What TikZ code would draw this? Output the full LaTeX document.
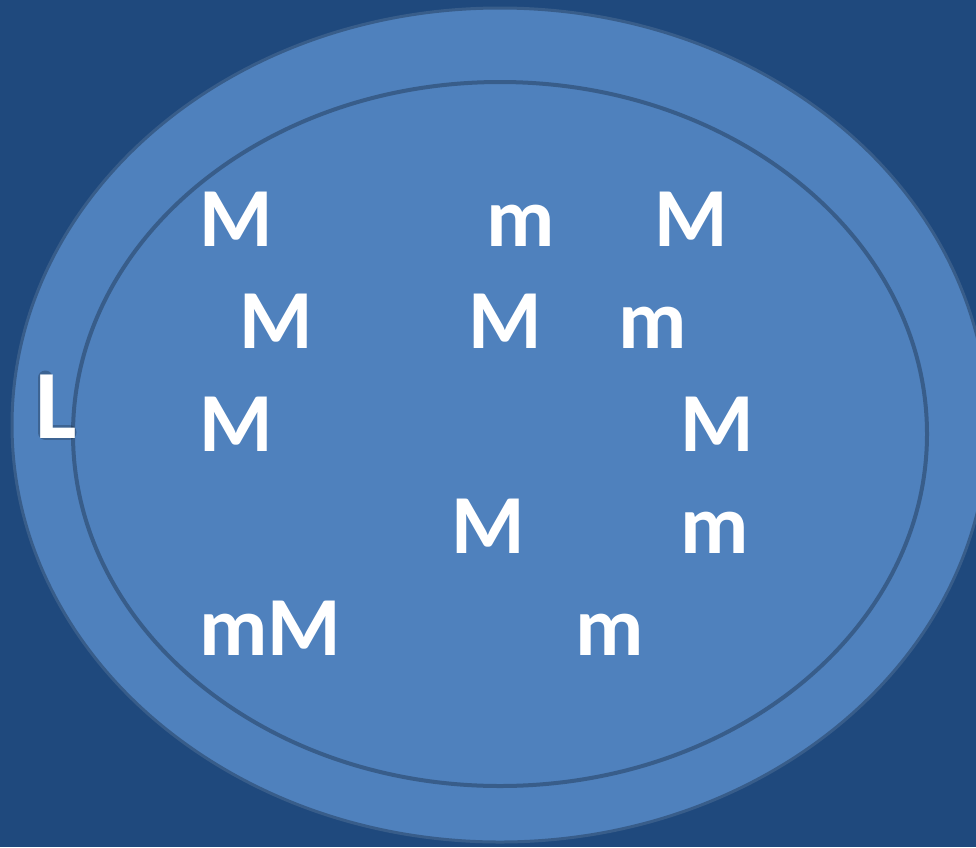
\documentclass[tikz,border=0pt]{standalone}
\usepackage{fontspec}
\setmainfont{Carlito}
\definecolor{bgblue}{RGB}{31,73,125}
\definecolor{fillblue}{RGB}{79,129,189}
\definecolor{lineblue}{RGB}{56,93,138}
\tikzset{
  lett/.style={anchor=base west, inner sep=0pt, text=white, font=\fontsize{84}{84}\selectfont\bfseries},
  ring/.style={draw=lineblue, fill=fillblue},
}
\begin{document}
\begin{tikzpicture}[x=1pt,y=-1pt]
\fill[bgblue] (0,0) rectangle (976,847);
\useasboundingbox (0,0) rectangle (976,847);
\begin{scope}
\clip (0,0) rectangle (976,847);
\draw[ring, line width=3pt] (500,425) ellipse [x radius=488, y radius=417];
\end{scope}
\draw[ring, line width=4pt] (500,434) ellipse [x radius=427, y radius=352];
% L with soft shadow
\coordinate (Lt) at (45,378);
\coordinate (Lc) at (45,432);
\coordinate (Lr) at (69,432);
\draw[black, opacity=0.22, line width=15pt, line cap=round, line join=round] (Lt) -- (Lc) -- (Lr);
\node[lett, font=\fontsize{98}{98}\selectfont\bfseries] (L) at (35,438) {L};
% row 1
\node[lett] (r1a) at (199,246) {M};
\node[lett] (r1b) at (486,246) {m};
\node[lett] (r1c) at (654,246) {M};
% row 2
\node[lett] (r2a) at (239,348) {M};
\node[lett] (r2b) at (468,348) {M};
\node[lett] (r2c) at (618,348) {m};
% row 3
\node[lett] (r3a) at (199,451) {M};
\node[lett] (r3b) at (680,451) {M};
% row 4
\node[lett] (r4a) at (451,553) {M};
\node[lett] (r4b) at (680,553) {m};
% row 5
\node[lett] (r5a) at (199,655) {mM};
\node[lett] (r5b) at (575,655) {m};
\end{tikzpicture}
\end{document}
